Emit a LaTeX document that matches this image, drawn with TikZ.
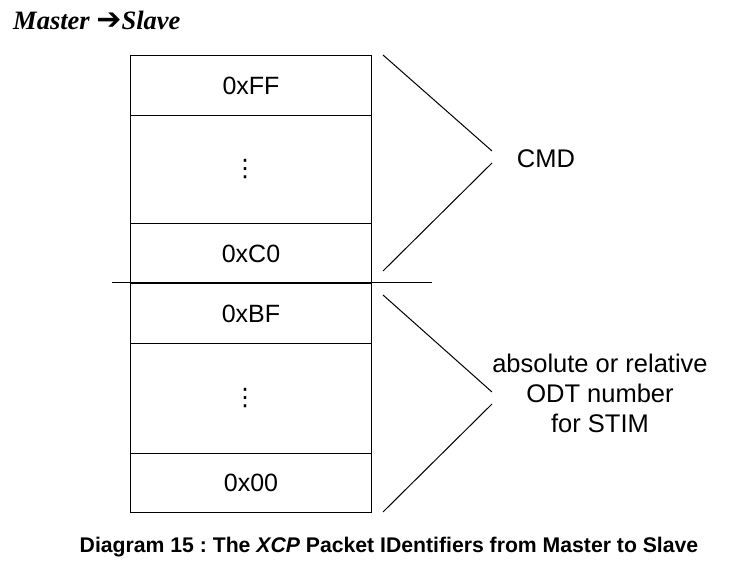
\documentclass[tikz,border=0pt]{standalone}
\usepackage{fontspec}
\setmainfont{Liberation Sans}
\newfontfamily\titlefont{Liberation Serif}
\newfontfamily\symfont{DejaVu Sans}
\frenchspacing
\begin{document}
\begin{tikzpicture}[x=1pt,y=1pt,
  row/.style={draw,line width=1pt,minimum width=241pt,inner sep=0pt,anchor=north west,font=\fontsize{25}{28}\selectfont},
  dots/.style={font=\symfont\fontsize{24}{28}\selectfont},
  brace/.style={line width=1pt},
  lbl/.style={font=\fontsize{25.5}{30}\selectfont,align=center}]
\useasboundingbox (0,0) rectangle (731,577);
\node[row,minimum height=60pt] (r1) at (130,522) {0xFF};
\node[row,minimum height=108pt,dots] (r2) at (130,462) {\hspace*{-12pt}⋮};
\node[row,minimum height=60pt] (r3) at (130,354) {0xC0};
\node[row,minimum height=60pt] (r4) at (130,294) {0xBF};
\node[row,minimum height=110pt,dots] (r5) at (130,234) {\hspace*{-12pt}⋮};
\node[row,minimum height=59pt] (r6) at (130,124) {0x00};
\coordinate (sepL) at (112,294);
\coordinate (sepR) at (432,294);
\draw[brace] (sepL) -- (sepR);
\node[lbl] (cmd) at (546,418) {CMD};
\node[lbl] (stim) at (600,184) {absolute or relative\\ODT number\\for STIM};
\coordinate (a1) at (383,522);
\coordinate (a2) at (492,426);
\coordinate (a3) at (492,414);
\coordinate (a4) at (383,306);
\coordinate (b1) at (383,282);
\coordinate (b2) at (492,185);
\coordinate (b3) at (492,173);
\coordinate (b4) at (383,65);
\draw[brace] (a1) -- (a2);
\draw[brace] (a3) -- (a4);
\draw[brace] (b1) -- (b2);
\draw[brace] (b3) -- (b4);
\node[anchor=west,inner sep=0pt,font=\titlefont\bfseries\itshape\fontsize{26.5}{28}\selectfont] (title) at (13,557) {Master {\symfont\bfseries\fontsize{30}{28}\selectfont ➔}Slave};
\node[inner sep=0pt,font=\bfseries\fontsize{21.2}{24}\selectfont] (cap) at (389,30) {Diagram 15 : The \textit{XCP} Packet IDentifiers from Master to Slave};
\end{tikzpicture}
\end{document}
